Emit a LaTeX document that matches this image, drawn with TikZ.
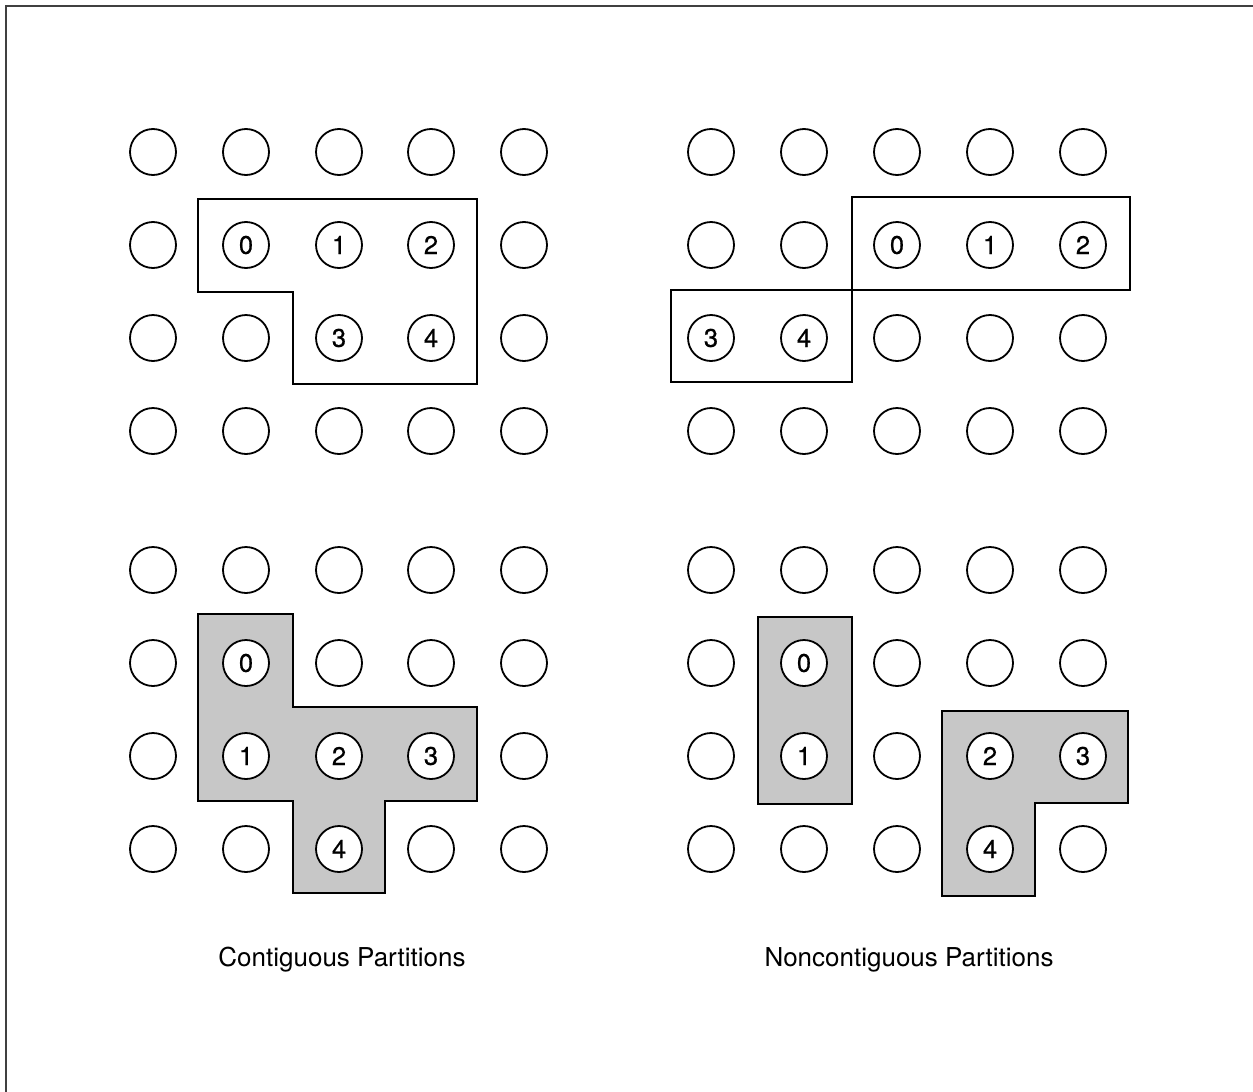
\documentclass[tikz,border=0pt]{standalone}
\usepackage{fontspec}
\setmainfont{TeX Gyre Heros}
\newfontfamily\digitfont[FakeBold=0.6]{TeX Gyre Heros}
\begin{document}
\begin{tikzpicture}[x=1pt,y=-1pt,
  pe/.style={circle,draw,line width=1.8pt,minimum size=46pt,inner sep=0pt,fill=white},
  digit/.style={inner sep=0pt,font=\digitfont\fontsize{25.5}{26}\selectfont},
  part/.style={draw,line width=2.3pt,line join=miter},
  shaded/.style={part,fill=black!22},
  caption/.style={anchor=base,inner sep=0pt,font=\fontsize{26}{28}\selectfont}]
\useasboundingbox (0,0) rectangle (1253,1092);
\draw[line width=1.2pt,black!75] (6,1092) -- (6,6) -- (1253,6);

% partition outlines (top)
\draw[part] (198,199) -- (477,199) -- (477,384) -- (293,384) -- (293,292) -- (198,292) -- cycle;
\draw[part] (852,197) -- (1130,197) -- (1130,290) -- (852,290) -- cycle;
\draw[part] (671,290) -- (852,290) -- (852,382) -- (671,382) -- cycle;
% partition regions (bottom)
\draw[shaded] (198,614) -- (293,614) -- (293,707) -- (477,707) -- (477,801) -- (385,801)
  -- (385,893) -- (293,893) -- (293,801) -- (198,801) -- cycle;
\draw[shaded] (758,617) -- (852,617) -- (852,804) -- (758,804) -- cycle;
\draw[shaded] (942,711) -- (1128,711) -- (1128,803) -- (1035,803) -- (1035,896) -- (942,896) -- cycle;

% processor grids
\foreach \x [count=\c from 0] in {153,246,339,431,524}{
  \foreach \y [count=\r from 0] in {152,245,338,431}{
    \node[pe] (tl-\r-\c) at (\x,\y) {};
  }
  \foreach \y [count=\r from 0] in {570,663,756,849}{
    \node[pe] (bl-\r-\c) at (\x,\y) {};
  }
}
\foreach \x [count=\c from 0] in {711,804,897,990,1083}{
  \foreach \y [count=\r from 0] in {152,245,338,431}{
    \node[pe] (tr-\r-\c) at (\x,\y) {};
  }
  \foreach \y [count=\r from 0] in {570,663,756,849}{
    \node[pe] (br-\r-\c) at (\x,\y) {};
  }
}

% labels
\node[digit] (tl0) at (tl-1-1) {0};
\node[digit] (tl1) at (tl-1-2) {1};
\node[digit] (tl2) at (tl-1-3) {2};
\node[digit] (tl3) at (tl-2-2) {3};
\node[digit] (tl4) at (tl-2-3) {4};

\node[digit] (tr0) at (tr-1-2) {0};
\node[digit] (tr1) at (tr-1-3) {1};
\node[digit] (tr2) at (tr-1-4) {2};
\node[digit] (tr3) at (tr-2-0) {3};
\node[digit] (tr4) at (tr-2-1) {4};

\node[digit] (bl0) at (bl-1-1) {0};
\node[digit] (bl1) at (bl-2-1) {1};
\node[digit] (bl2) at (bl-2-2) {2};
\node[digit] (bl3) at (bl-2-3) {3};
\node[digit] (bl4) at (bl-3-2) {4};

\node[digit] (br0) at (br-1-1) {0};
\node[digit] (br1) at (br-2-1) {1};
\node[digit] (br2) at (br-2-3) {2};
\node[digit] (br3) at (br-2-4) {3};
\node[digit] (br4) at (br-3-3) {4};

\node[caption] (capl) at (342,966) {Contiguous Partitions};
\node[caption] (capr) at (909,966) {Noncontiguous Partitions};
\end{tikzpicture}
\end{document}
